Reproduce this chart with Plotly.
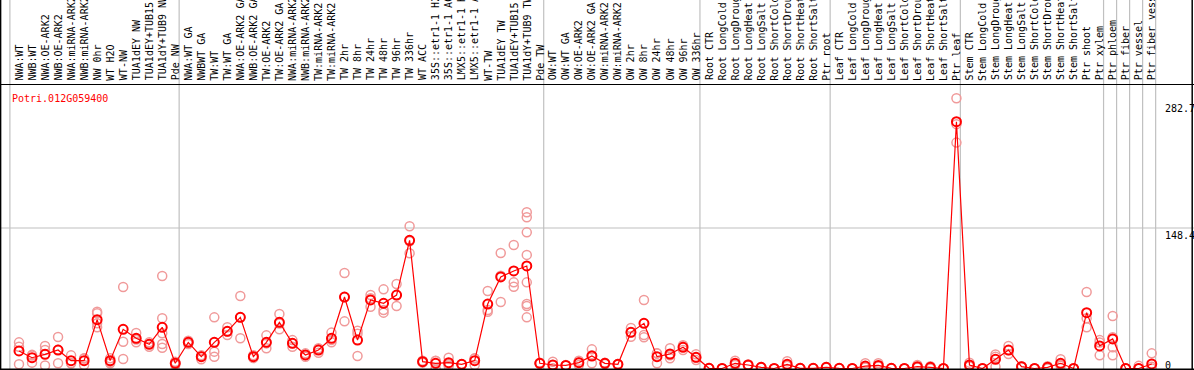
import plotly.graph_objects as go

categories = [
    "NWA:WT", "NWB:WT", "NWA:OE-ARK2", "NWB:OE-ARK2", "NWA:miRNA-ARK2", "NWB:miRNA-ARK2",
    "NW 0hr", "WT H2O", "WT-NW", "TUA1dEY NW", "TUA1dEY+TUB15 NW", "TUA1dY+TUB9 NW", "Pde NW",
    "NWA:WT GA", "NWBWT GA", "TW:WT", "TW:WT GA", "NWA:OE-ARK2 GA", "NWB:OE-ARK2 GA",
    "TW:OE-ARK2", "TW:OE-ARK2 GA", "NWA:miRNA-ARK2 GA", "NWB:miRNA-ARK2 GA", "TW:miRNA-ARK2",
    "TW:miRNA-ARK2 GA", "TW 2hr", "TW 8hr", "TW 24hr", "TW 48hr", "TW 96hr", "TW 336hr",
    "WT ACC", "35S::etr1-1 H2O", "35S::etr1-1 ACC", "LMX5::etr1-1 H2O", "LMX5::etr1-1 ACC",
    "WT-TW", "TUA1dEY TW", "TUA1dEY+TUB15 TW", "TUA1dY+TUB9 TW", "Pde TW",
    "OW:WT", "OW:WT GA", "OW:OE-ARK2", "OW:OE-ARK2 GA", "OW:miRNA-ARK2", "OW:miRNA-ARK2 GA",
    "OW 2hr", "OW 8hr", "OW 24hr", "OW 48hr", "OW 96hr", "OW 336hr",
    "Root CTR", "Root LongCold", "Root LongDrought", "Root LongHeat", "Root LongSalt",
    "Root ShortCold", "Root ShortDrought", "Root ShortHeat", "Root ShortSalt", "Ptr root",
    "Leaf CTR", "Leaf LongCold", "Leaf LongDrought", "Leaf LongHeat", "Leaf LongSalt",
    "Leaf ShortCold", "Leaf ShortDrought", "Leaf ShortHeat", "Leaf ShortSalt", "Ptr leaf",
    "Stem CTR", "Stem LongCold", "Stem LongDrought", "Stem LongHeat", "Stem LongSalt",
    "Stem ShortCold", "Stem ShortDrought", "Stem ShortHeat", "Stem ShortSalt", "Ptr shoot",
    "Ptr xylem", "Ptr phloem", "Ptr fiber", "Ptr vessel", "Ptr fiber vessel",
]

mean_values = [
    18.5, 11.4, 15.0, 19.5, 8.3, 8.3, 51.6, 8.3, 41.4, 31.9, 25.5, 43.5, 5.5,
    27.6, 12.5, 27.6, 39.3, 54.0, 12.5, 27.6, 48.8, 26.6, 14.3, 19.5, 31.9, 75.5,
    30.0, 72.4, 68.8, 77.6, 135.4, 7.2, 5.5, 6.2, 4.4, 8.3, 68.1, 96.7, 103.0, 108.3, 5.5,
    3.7, 3.3, 6.2, 13.2, 5.5, 4.4, 38.2, 47.7, 12.5, 15.3, 22.4, 11.8,
    0.2, 0.0, 5.5, 3.7, 1.2, 0.0, 4.4, 0.2, 0.2, 1.2,
    0.2, 0.0, 2.6, 3.3, 0.2, 0.0, 1.9, 1.2, 0.0, 260.7,
    3.7, 0.0, 9.7, 19.5, 1.9, 0.0, 1.2, 5.5, 0.0, 59.0,
    23.8, 31.2, 0.0, 0.0, 4.8,
]

replicate_values = [
    [27.6, 23.0, 4.4], [13.6, 14.4, 6.2], [23.8, 19.5, 3.3], [33.3, 19.7, 5.5],
    [13.9, 5.5, 5.5], [10.7, 3.7, 10.5], [60.0, 58.3, 47.7, 43.5], [10.7, 7.2, 5.5],
    [86.0, 28.3, 10.0], [37.5, 27.6, 30.6], [27.6, 23.0, 26.0],
    [97.7, 53.0, 37.2, 25.9, 22.0], [7.2, 3.7, 5.5],
    [29.4, 27.6, 25.8], [13.9, 9.7, 13.0], [54.0, 17.8, 12.5], [43.5, 35.4, 39.0],
    [76.6, 54.0, 31.9], [12.5, 11.0, 14.0], [35.0, 21.3, 26.5], [57.6, 41.4, 47.5],
    [30.0, 23.0, 26.8], [14.3, 12.5, 16.0], [21.3, 16.7, 20.5], [37.9, 27.6, 30.2],
    [100.9, 49.8, 75.5], [40.0, 13.2, 36.8], [77.6, 65.3, 74.3], [83.6, 61.8, 59.0],
    [89.3, 66.0, 77.5], [150.2, 121.7, 134.3], [7.2, 8.3, 6.2], [8.3, 0.2, 8.0],
    [11.4, 2.6, 4.6], [4.4, 4.2, 4.6], [10.7, 3.7, 10.5], [81.9, 61.8, 60.0],
    [122.0, 70.2, 97.9], [130.5, 91.0, 86.4],
    [165.0, 159.7, 143.8, 120.0, 91.0, 68.1, 66.0, 54.0], [5.5, 6.0, 5.0],
    [7.2, 0.2, 3.7], [3.3, 3.0, 3.6], [8.3, 3.7, 6.6], [20.2, 5.5, 13.9], [5.5, 6.2, 4.8],
    [4.4, 4.0, 4.8], [42.8, 33.6, 38.2], [72.4, 35.4, 32.9], [16.0, 5.5, 16.0],
    [21.3, 10.7, 13.9], [24.5, 19.5, 23.2], [15.0, 9.0, 11.4],
    [0.2, 0.0, 0.4], [0.0, 0.0, 0.0], [8.3, 3.7, 4.5], [3.7, 3.2, 4.2], [1.2, 0.8, 1.6],
    [0.0, 0.0, 0.0], [7.6, 2.8, 2.8], [0.2, 0.0, 0.4], [0.2, 0.3, 0.1], [1.2, 0.9, 1.5],
    [0.2, 0.1, 0.3], [0.0, 0.0, 0.0], [5.5, 1.2, 1.1], [5.5, 2.5, 2.0], [0.2, 0.1, 0.3],
    [0.0, 0.0, 0.0], [3.7, 1.0, 1.0], [2.5, 1.0, 0.1], [0.0, 0.0, 0.0],
    [285.4, 238.6, 258.1],
    [6.2, 2.5, 2.4], [0.0, 0.0, 0.0], [12.5, 1.9, 14.7], [23.8, 15.3, 19.4],
    [1.9, 1.5, 2.3], [0.0, 0.0, 0.0], [1.2, 2.4, 0.0], [9.7, 4.0, 2.8], [0.0, 0.0, 0.0],
    [80.8, 53.0, 43.5], [30.0, 13.9, 27.5], [55.5, 22.4, 13.9, 33.0], [0.0, 0.0, 0.0],
    [0.0, 2.8, 0.0], [16.0, 1.9, 0.0],
]

gene_name = "Potri.012G059400"
tick_values = [282.7, 148.4, 0]
tick_labels = ["282.7", "148.4", "0"]
group_breaks = [-1, 12, 40, 52, 62, 72, 83, 84, 85, 86, 87]

W, H = 1194, 370
x0_px, step_px = 19.0, 13.02
y0_px, px_per_unit = 368.5, 0.9468
plot_top_px, plot_bot_px = 85.0, 369.5

x_range = [(0 - x0_px) / step_px, (W - x0_px) / step_px]
y_range = [-(plot_bot_px - y0_px) / px_per_unit, (y0_px - plot_top_px) / px_per_unit]
y_domain = [(H - plot_bot_px) / H, (H - plot_top_px) / H]

idx = list(range(len(categories)))

rep_x, rep_y = [], []
for i, reps in enumerate(replicate_values):
    for v in reps:
        rep_x.append(i)
        rep_y.append(v)

fig = go.Figure()
fig.add_trace(go.Scatter(
    x=rep_x, y=rep_y, mode="markers",
    marker=dict(symbol="circle-open", size=9, color="#f09a9a", line=dict(width=1.5, color="#f09a9a")),
    hoverinfo="skip", showlegend=False,
))
fig.add_trace(go.Scatter(
    x=idx, y=mean_values, mode="lines+markers",
    line=dict(color="#ff0000", width=1.2),
    marker=dict(symbol="circle-open", size=9, color="#ff0000", line=dict(width=2, color="#ff0000")),
    text=categories, showlegend=False,
))

shapes = []
for b in group_breaks:
    xb = b + 0.3
    shapes.append(dict(type="line", xref="x", yref="paper", x0=xb, x1=xb, y0=0, y1=1,
                       line=dict(color="#c0c0c0", width=1.2), layer="below"))
shapes.append(dict(type="line", xref="paper", yref="y", x0=0, x1=1, y0=148.4, y1=148.4,
                   line=dict(color="#c0c0c0", width=1.2), layer="below"))
hdr = (H - 84.5) / H
shapes.append(dict(type="line", xref="paper", yref="paper", x0=0, x1=1, y0=hdr, y1=hdr,
                   line=dict(color="black", width=1.2)))
shapes.append(dict(type="line", xref="paper", yref="paper", x0=0.6 / W, x1=0.6 / W, y0=0, y1=1,
                   line=dict(color="black", width=1.5)))
shapes.append(dict(type="line", xref="paper", yref="paper", x0=(W - 1.8) / W, x1=(W - 1.8) / W, y0=0, y1=1,
                   line=dict(color="black", width=1.5)))
shapes.append(dict(type="line", xref="paper", yref="paper", x0=0, x1=1, y0=(H - 369.3) / H, y1=(H - 369.3) / H,
                   line=dict(color="black", width=1.5)))

annotations = []
label_bottom = (H - 82.5) / H
for i, c in enumerate(categories):
    annotations.append(dict(
        x=i, y=label_bottom, xref="x", yref="paper", text=c, textangle=-90,
        showarrow=False, xanchor="center", yanchor="bottom",
        font=dict(family="DejaVu Sans Mono", size=10, color="black"),
    ))
annotations.append(dict(
    x=9.5 / W, y=(H - 91) / H, xref="paper", yref="paper", text=gene_name,
    showarrow=False, xanchor="left", yanchor="top",
    font=dict(family="DejaVu Sans Mono", size=10, color="#ff0000"),
))
for v, t in zip(tick_values, tick_labels):
    ypx = y0_px - v * px_per_unit
    if v == 0:
        ypx = 357.5
    annotations.append(dict(
        x=1162.5 / W, y=(H - ypx) / H, xref="paper", yref="paper", text=t,
        showarrow=False, xanchor="left", yanchor="top",
        font=dict(family="DejaVu Sans Mono", size=10, color="black"),
    ))

fig.update_layout(
    width=W, height=H, margin=dict(l=0, r=0, t=0, b=0),
    paper_bgcolor="white", plot_bgcolor="white",
    xaxis=dict(range=x_range, showgrid=False, zeroline=False, showticklabels=False,
               showline=False, ticks="", fixedrange=True),
    yaxis=dict(range=y_range, domain=y_domain, showgrid=False, zeroline=False,
               showticklabels=False, showline=False, ticks="", fixedrange=True),
    shapes=shapes, annotations=annotations, showlegend=False,
)

fig.write_html("out.html", config={"displayModeBar": False},
               post_script="document.body.style.margin='0';document.body.style.overflow='hidden';")
